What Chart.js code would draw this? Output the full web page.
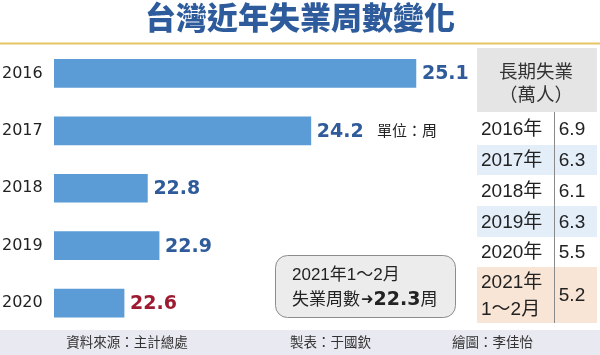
<!DOCTYPE html>
<html><head><meta charset="utf-8">
<script src="https://cdn.jsdelivr.net/npm/chart.js@4"></script>
<style>html,body{margin:0;padding:0;background:#fff;} canvas{display:block;}</style>
</head><body>
<canvas id="c" width="600" height="355"></canvas>
<script>
const title = '台灣近年失業周數變化';
const years = ['2016', '2017', '2018', '2019', '2020'];
const weeks = [25.1, 24.2, 22.8, 22.9, 22.6];
const unitNote = '單位：周';
const tableHeader = ['長期失業', '（萬人）'];
const tableYears = [['2016年'], ['2017年'], ['2018年'], ['2019年'], ['2020年'], ['2021年', '1～2月']];
const longTerm = [6.9, 6.3, 6.1, 6.3, 5.5, 5.2];
const noteLine1 = '2021年1～2月';
const noteLabel = '失業周數';
const noteValue = 22.3;
const noteUnit = '周';
const footerTexts = ['資料來源：主計總處', '製表：于國欽', '繪圖：李佳怡'];

const CJK = '"Noto Sans CJK TC"';
const TXT = '"Liberation Sans", ' + CJK;
const NUMB = '"DejaVu Sans", ' + CJK;

const overlay = {
  id: 'overlay',
  beforeDraw(chart) {
    const c = chart.ctx;
    c.save();
    c.fillStyle = '#fff';
    c.fillRect(0, 0, chart.width, chart.height);
    // title
    c.fillStyle = '#2d5b9c';
    c.font = '900 31px ' + CJK;
    c.textAlign = 'center';
    c.textBaseline = 'middle';
    c.fillText(title, 300, 17);
    // gold rule
    c.fillStyle = '#e6c466';
    c.fillRect(0, 42.5, 600, 2);
    // table header
    c.fillStyle = '#e5e5e5';
    c.fillRect(477, 48, 120, 64);
    c.fillStyle = '#333';
    c.font = '18.5px ' + TXT;
    c.fillText(tableHeader[0], 536, 73);
    c.fillText(tableHeader[1], 536, 96);
    // rows
    const tops = [112, 145, 175, 206, 237, 267, 323];
    const rowBg = [null, '#e3eef9', null, '#e3eef9', null, '#f8e5d6'];
    for (let i = 0; i < longTerm.length; i++) {
      const y0 = tops[i], y1 = tops[i + 1];
      if (rowBg[i]) { c.fillStyle = rowBg[i]; c.fillRect(477, y0, 120, y1 - y0); }
      c.fillStyle = '#222';
      c.font = '19px ' + TXT;
      c.textAlign = 'left';
      const lines = tableYears[i];
      const mid = (y0 + y1) / 2 + 1;
      if (lines.length === 1) c.fillText(lines[0], 481, mid);
      else { c.fillText(lines[0], 481, mid - 13); c.fillText(lines[1], 481, mid + 14); }
      c.textAlign = 'center';
      c.fillText(longTerm[i].toFixed(1), 572, mid);
    }
    c.strokeStyle = '#8a8a8a';
    c.lineWidth = 1;
    c.beginPath(); c.moveTo(554.5, 112); c.lineTo(554.5, 323); c.stroke();
    // note box
    c.beginPath();
    c.roundRect(275.5, 255.5, 180, 62, 12);
    c.fillStyle = '#ececec'; c.fill();
    c.strokeStyle = '#8c8c8c'; c.stroke();
    c.fillStyle = '#222';
    c.textAlign = 'left';
    c.font = '17px ' + TXT;
    c.fillText(noteLine1, 292, 275);
    let x = 292;
    const y2 = 300;
    c.fillText(noteLabel, x, y2); x += c.measureText(noteLabel).width + 1;
    c.font = 'bold 15px "DejaVu Sans"';
    c.fillText('➜', x, y2); x += c.measureText('➜').width;
    c.font = 'bold 19px ' + NUMB;
    const v = noteValue.toFixed(1);
    c.fillText(v, x, y2); x += c.measureText(v).width;
    c.font = '17px ' + TXT;
    c.fillText(noteUnit, x, y2);
    // unit note
    c.font = '15px ' + TXT;
    c.fillText(unitNote, 377, 132);
    // footer
    c.fillStyle = '#e9eaf1';
    c.fillRect(0, 330, 600, 25);
    c.fillStyle = '#333';
    c.font = '13.5px ' + TXT;
    c.textAlign = 'center';
    c.fillText(footerTexts[0], 127, 343);
    c.textAlign = 'left';
    c.fillText(footerTexts[1], 290, 343);
    c.fillText(footerTexts[2], 452, 343);
    c.restore();
  },
  afterDatasetsDraw(chart) {
    const c = chart.ctx;
    const meta = chart.getDatasetMeta(0);
    c.save();
    c.font = 'bold 19px ' + NUMB;
    c.textAlign = 'left';
    c.textBaseline = 'middle';
    meta.data.forEach((bar, i) => {
      c.fillStyle = i === weeks.length - 1 ? '#9c1b30' : '#2f5b9b';
      c.fillText(weeks[i].toFixed(1), bar.x + 6, bar.y + 1);
    });
    c.restore();
  }
};

new Chart(document.getElementById('c'), {
  type: 'bar',
  data: {
    labels: years,
    datasets: [{ data: weeks, backgroundColor: '#5b9bd6', barThickness: 28, borderWidth: 0 }]
  },
  options: {
    indexAxis: 'y',
    responsive: false,
    animation: false,
    devicePixelRatio: 1,
    layout: { padding: { left: 2, top: 44.75, right: 79, bottom: 23.25 } },
    plugins: { legend: { display: false }, tooltip: { enabled: false }, title: { display: false } },
    scales: {
      x: { display: false, min: 22, max: 26 },
      y: {
        grid: { display: false },
        border: { display: false },
        ticks: { crossAlign: 'far', padding: 0, color: '#222', font: { family: 'DejaVu Sans', size: 16 } },
        afterFit(s) { s.width = 52; }
      }
    }
  },
  plugins: [overlay]
});
</script>
</body></html>
